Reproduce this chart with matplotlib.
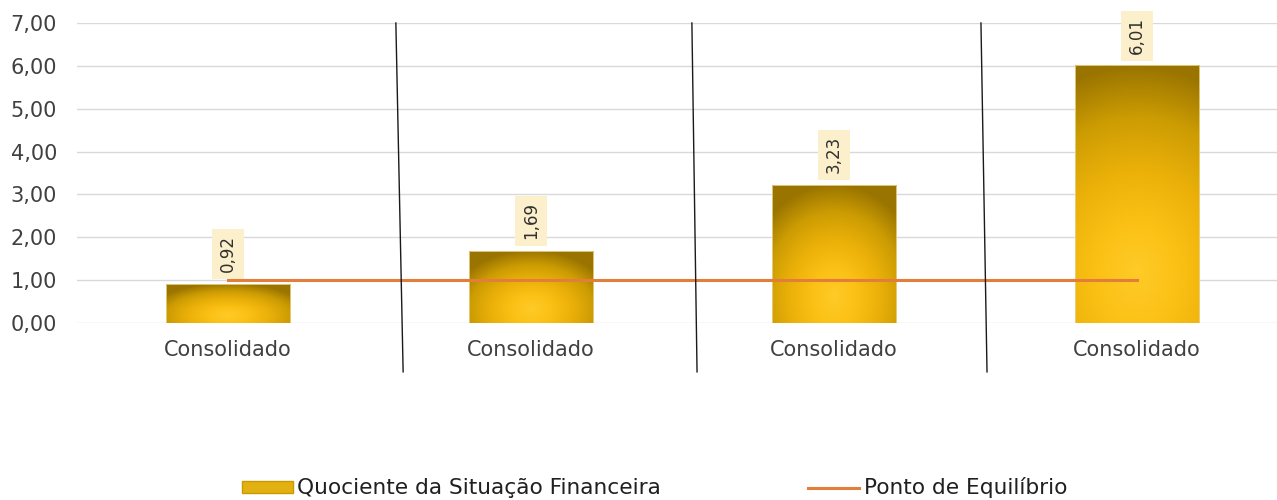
import matplotlib
matplotlib.use("Agg")
import matplotlib.pyplot as plt
import numpy as np
from matplotlib.colors import LinearSegmentedColormap
from matplotlib.patches import Patch
from matplotlib.lines import Line2D

# ================================
# Data
# ================================
categories = ["Consolidado", "Consolidado", "Consolidado", "Consolidado"]
quociente = [0.92, 1.69, 3.23, 6.01]
equilibrio = [1.0, 1.0, 1.0, 1.0]
yticks = [0, 1, 2, 3, 4, 5, 6, 7]
# hand drawn separators (top x, bottom x) in category units
separators = [(0.554, 0.578), (1.531, 1.548), (2.485, 2.505)]
sep_bottom = -1.14

gold = LinearSegmentedColormap.from_list(
    "gold", ["#FFCB28", "#FBC014", "#EAB009", "#CC9C03", "#9A7400"])


def fmt(v):
    return ("%.2f" % v).replace(".", ",")


# ================================
# Plotting
# ================================
plt.rcParams["font.family"] = "DejaVu Sans"
fig = plt.figure(figsize=(12.77, 5.0), dpi=100)
ax = fig.add_axes([76.5 / 1277, 0.354, 1212 / 1277, 0.6])

x = np.arange(len(categories))
bars = ax.bar(x, quociente, width=0.41, color="none", edgecolor="#EBD28A",
              linewidth=0.6, zorder=3)

# gradient fill for each bar
for rect in bars:
    bx, by = rect.get_x(), rect.get_y()
    bw, bh = rect.get_width(), rect.get_height()
    wpx = bw * 303
    hpx = bh * 300 / 7
    ax_x = min(1.0, wpx / hpx) * 0.75
    xx = np.linspace(-1, 1, 120)
    yy = np.linspace(0, 1, 200)
    X, Y = np.meshgrid(xx, yy)
    dy = np.where(Y > 0.2, (Y - 0.2) / 0.8, (0.2 - Y) / 0.2 * 0.2)
    t = np.clip(np.sqrt((X * ax_x) ** 2 + dy ** 2), 0, 1)
    im = ax.imshow(t, cmap=gold, vmin=0, vmax=1, origin="lower",
                   extent=[bx, bx + bw, by, by + bh], aspect="auto",
                   zorder=2, interpolation="bilinear")
    im.set_clip_path(rect)

ax.plot(x, equilibrio, color="#E27D3A", linewidth=2.2, zorder=4)

for xi, v in zip(x, quociente):
    ax.annotate(fmt(v), (xi, v), xytext=(0, 8), textcoords="offset points",
                rotation=90, ha="center", va="bottom", fontsize=12,
                color="#303030", zorder=5,
                bbox=dict(boxstyle="square,pad=0.4", fc="#FCEFCB", ec="none"))

for top, bot in separators:
    ax.plot([top, bot], [7.0, sep_bottom], color="#1a1a1a", linewidth=1.0,
            clip_on=False, zorder=6)

ax.set_xlim(-0.5, 3.5)
ax.set_ylim(0, 7)
ax.set_yticks(yticks)
ax.set_yticklabels([fmt(v) for v in yticks])
ax.set_xticks(x)
ax.set_xticklabels(categories)
ax.tick_params(axis="both", length=0, labelsize=15, labelcolor="#404040")
ax.tick_params(axis="y", pad=14)
ax.tick_params(axis="x", pad=12)
ax.grid(axis="y", color="#D9D9D9", linewidth=1.0, zorder=0)
ax.set_axisbelow(True)
for s in ax.spines.values():
    s.set_visible(False)

handles = [Patch(facecolor="#E3B012", edgecolor="#C99A00",
                 label="Quociente da Situação Financeira"),
           Line2D([], [], color="#E27D3A", linewidth=2.2,
                  label="Ponto de Equilíbrio")]
fig.legend(handles=handles, loc="center left", bbox_to_anchor=(242 / 1277, 0.024),
           ncol=2, frameon=False, fontsize=15.6, handlelength=2.35,
           handleheight=0.5, handletextpad=0.2, columnspacing=6.8,
           borderpad=0, borderaxespad=0, labelcolor="#202020")

plt.savefig("out.png", dpi=100)
